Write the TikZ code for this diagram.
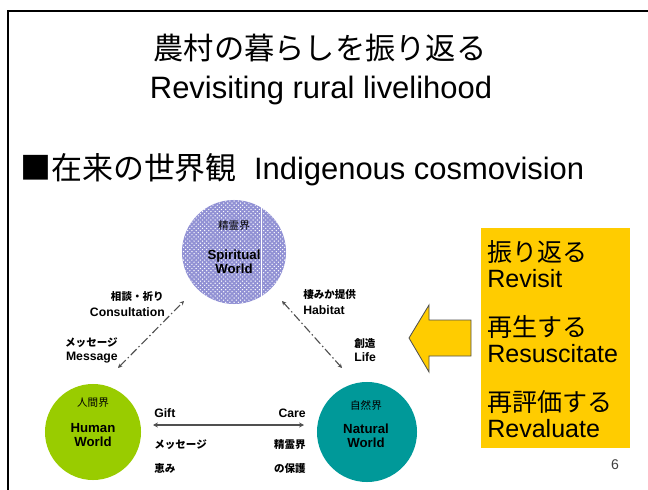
\documentclass[tikz,border=0pt]{standalone}
\usepackage{fontspec}
\setmainfont{Liberation Sans}
\newfontfamily\jp{Noto Sans CJK JP}
\usetikzlibrary{arrows.meta,calc,patterns}

\definecolor{spiritblue}{RGB}{145,145,212}
\definecolor{humangreen}{RGB}{153,204,0}
\definecolor{natureteal}{RGB}{0,153,153}
\definecolor{boxyellow}{RGB}{255,204,0}
\definecolor{linegray}{RGB}{80,80,80}

\begin{document}
\begin{tikzpicture}[x=0.025cm,y=-0.025cm,
    world/.style={circle,inner sep=0pt},
    lbl/.style={font=\fontsize{8.7}{10}\selectfont\bfseries,inner sep=0pt},
    jplbl/.style={font=\jp\fontsize{7.5}{9}\selectfont\bfseries,inner sep=0pt},
    boxtxt/.style={font=\fontsize{17.8}{20}\selectfont,anchor=west,inner sep=0pt},
    link/.style={linegray,line width=0.8pt,dash pattern=on 6pt off 2pt on 1pt off 2pt,
        {Stealth[length=3pt,width=3pt]}-{Stealth[length=3pt,width=3pt]}}]
    \useasboundingbox (0,0) rectangle (648,490);

    % 枠
    \draw[line width=1.5pt] (8,500) -- (8,11) -- (660,11);

    % 題
    \node[font=\jp\fontsize{21.5}{24}\selectfont] (title) at (320,48) {農村の暮らしを振り返る};
    \node[font=\fontsize{22}{26}\selectfont] (subtitle) at (321,91) {Revisiting rural livelihood};
    \node[font=\fontsize{22}{26}\selectfont,anchor=west,inner sep=0pt] (head) at (20,170)
        {{\jp ■在来の世界観}\ \ Indigenous cosmovision};

    % 三つの世界
    \node[world,minimum size=2.6cm,preaction={fill=spiritblue},
        pattern=crosshatch dots,pattern color=white] (spirit) at (234,252) {};
    \draw[white,line width=0.6pt] (261,201) -- (261,304);
    \node[world,fill=humangreen,minimum size=2.4cm] (human) at (93,432) {};
    \node[world,fill=natureteal,minimum size=2.5cm] (nature) at (367,432) {};

    \node[jplbl,font=\jp\fontsize{7.5}{9}\selectfont] (spiritjp) at ($(spirit)+(0,-26)$) {精霊界};
    \node[lbl,font=\fontsize{9.4}{11}\selectfont\bfseries,align=center] (spiriten) at ($(spirit)+(0,10)$)
        {Spiritual\\[-1pt]World};
    \node[jplbl,font=\jp\fontsize{7.5}{9}\selectfont] (humanjp) at ($(human)+(0,-29)$) {人間界};
    \node[lbl,font=\fontsize{9.4}{11}\selectfont\bfseries,align=center] (humanen) at ($(human)+(0,3)$)
        {Human\\[-1pt]World};
    \node[jplbl,font=\jp\fontsize{7.5}{9}\selectfont] (naturejp) at ($(nature)+(-1,-27)$) {自然界};
    \node[lbl,font=\fontsize{9.4}{11}\selectfont\bfseries,align=center] (natureen) at ($(nature)+(-1,4)$)
        {Natural\\[-1pt]World};

    % 矢印
    \coordinate (hs) at (118,368);
    \coordinate (sh) at (184,301);
    \coordinate (sn) at (282,301);
    \coordinate (ns) at (342,368);
    \coordinate (hn) at (153,425);
    \coordinate (nh) at (304,425);
    \draw[link] (hs) -- (sh);
    \draw[link] (sn) -- (ns);
    \draw[linegray,line width=1pt,{Stealth[length=3.5pt,width=3.5pt]}-{Stealth[length=3.5pt,width=3.5pt]}] (hn) -- (nh);

    % 矢印の説明
    \node[jplbl,anchor=east] (consjp) at (164,297) {相談・祈り};
    \node[lbl,anchor=east] (cons) at (165,312) {Consultation};
    \node[jplbl,anchor=east] (msgjp) at (118,343) {メッセージ};
    \node[lbl,anchor=east] (msg) at (118,358) {Message};
    \node[jplbl,anchor=west] (habjp) at (303,295) {棲みか提供};
    \node[lbl,anchor=west] (hab) at (303,310) {Habitat};
    \node[jplbl,anchor=west] (lifejp) at (354,343) {創造};
    \node[lbl,anchor=west] (life) at (354,357) {Life};
    \node[lbl,anchor=west] (gift) at (154,413) {Gift};
    \node[lbl,anchor=east] (care) at (306,413) {Care};
    \node[jplbl,anchor=west] (giftjp1) at (154,445) {メッセージ};
    \node[jplbl,anchor=west] (giftjp2) at (154,468) {恵み};
    \node[jplbl,anchor=east] (carejp1) at (306,445) {精霊界};
    \node[jplbl,anchor=east] (carejp2) at (306,468) {の保護};

    % 黄色の矢印と箱
    \draw[fill=boxyellow,draw=linegray,line width=0.6pt] (409,338) -- (429,305) -- (429,320)
        -- (471,320) -- (471,356) -- (429,356) -- (429,372) -- cycle;
    \fill[boxyellow] (481,228) rectangle (630,448);
    \node[boxtxt,font=\jp\fontsize{17.8}{20}\selectfont] (revjp) at (487,252) {振り返る};
    \node[boxtxt] (rev) at (487,279) {Revisit};
    \node[boxtxt,font=\jp\fontsize{17.8}{20}\selectfont] (resjp) at (487,327) {再生する};
    \node[boxtxt] (res) at (487,354) {Resuscitate};
    \node[boxtxt,font=\jp\fontsize{17.8}{20}\selectfont] (reejp) at (487,402) {再評価する};
    \node[boxtxt] (ree) at (487,429) {Revaluate};

    % 頁番号
    \node[font=\fontsize{10}{12}\selectfont,text=black!75] (page) at (615,465) {6};
\end{tikzpicture}
\end{document}
